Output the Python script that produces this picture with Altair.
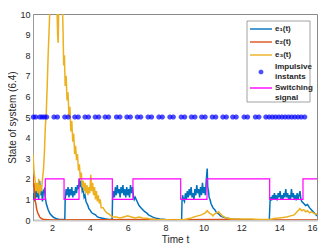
import altair as alt
import pandas as pd

# ---- data ----
e1_t = [1.00,1.05,1.10,1.15,1.20,1.25,1.30,1.35,1.40,1.45,1.50,1.55,1.60,1.65,1.70,1.80,1.90,2.00,2.10,2.20,2.30,2.40,2.50,2.60,2.68,
        2.70,2.75,2.80,2.85,2.90,2.95,3.00,3.05,3.10,3.15,3.20,3.25,3.30,3.35,3.40,3.45,3.50,3.55,3.60,3.65,3.70,3.75,3.80,3.85,3.90,3.95,4.00,4.10,4.20,4.30,4.40,4.50,4.60,4.80,5.00,5.18,
        5.20,5.25,5.30,5.35,5.40,5.45,5.50,5.55,5.60,5.65,5.70,5.75,5.80,5.85,5.90,5.95,6.00,6.05,6.10,6.15,6.20,6.25,6.30,6.35,6.40,6.50,6.60,6.70,6.80,6.90,7.00,7.10,7.20,7.30,7.50,7.70,8.00,8.50,8.85,
        8.87,8.90,8.95,9.00,9.05,9.10,9.15,9.20,9.25,9.30,9.35,9.40,9.45,9.50,9.55,9.60,9.65,9.70,9.75,9.80,9.85,9.90,9.95,10.00,10.05,10.10,10.15,10.20,10.23,10.27,10.30,10.35,10.40,10.50,10.60,10.70,10.80,10.90,11.00,11.20,11.50,12.00,13.00,13.48,
        13.52,13.55,13.60,13.65,13.70,13.75,13.80,13.85,13.90,13.95,14.00,14.05,14.10,14.15,14.20,14.25,14.30,14.35,14.40,14.45,14.50,14.55,14.60,14.65,14.70,14.75,14.80,14.85,14.90,14.95,15.00,15.05,15.10,15.15,15.20,15.30,15.40,15.50,15.60,15.70,15.80,15.90,16.00]
e1_v = [1.0,1.3,0.9,1.4,1.1,1.6,1.0,1.9,1.2,1.5,0.9,1.4,1.5,1.1,0.8,0.5,0.3,0.2,0.12,0.08,0.05,0.03,0.02,0.02,0.02,
        1.0,1.5,1.2,1.6,1.1,1.5,1.2,1.6,1.1,1.4,1.2,1.6,1.3,1.7,1.5,2.0,1.6,1.9,1.4,1.5,1.1,1.2,0.9,0.8,0.7,0.55,0.5,0.35,0.3,0.25,0.15,0.12,0.1,0.06,0.03,0.02,
        1.0,1.4,1.1,1.6,1.2,1.7,1.3,1.5,1.1,1.6,1.3,1.7,1.2,1.5,1.1,1.6,1.2,1.5,1.1,1.7,1.3,1.6,1.2,1.0,1.1,0.9,0.7,0.6,0.5,0.4,0.35,0.25,0.2,0.15,0.08,0.05,0.02,0.0,0.0,
        0.9,1.2,1.0,0.9,1.3,1.0,1.4,1.1,1.5,1.2,1.6,1.1,1.3,1.0,1.5,1.2,1.7,1.3,1.5,1.1,1.6,1.2,1.8,1.3,1.6,1.2,1.9,2.5,1.6,1.4,1.1,1.0,0.8,0.6,0.5,0.35,0.3,0.2,0.15,0.1,0.05,0.02,0.0,0.0,
        0.9,1.1,0.95,1.2,1.0,1.3,1.0,1.2,0.95,1.3,1.1,1.4,1.0,1.2,1.0,1.3,1.1,1.5,1.1,1.3,1.0,1.2,1.0,1.5,1.1,1.3,1.0,1.2,0.95,1.3,1.0,1.2,1.4,1.0,0.9,0.8,0.7,0.75,0.6,0.5,0.4,0.3,0.2]

e2_t = [1.00,1.03,1.06,1.10,1.15,1.20,1.25,1.30,1.35,1.40,1.50,1.60,2.00,7.00,7.50,8.00,11.00,11.50,12.00,16.00]
e2_v = [2.2,1.6,1.8,1.0,0.8,0.5,0.35,0.25,0.15,0.1,0.05,0.02,0.0,0.02,0.03,0.01,0.02,0.03,0.01,0.0]

e3_t = [1.00,1.05,1.10,1.15,1.20,1.25,1.30,1.35,1.40,1.45,1.50,1.55,1.60,1.65,1.70,1.75,1.80,1.85,1.90,1.95,2.00,2.05,2.10,2.15,2.20,2.25,2.30,2.33,2.36,2.40,2.45,2.50,2.55,2.58,2.62,2.66,2.70,2.75,2.80,2.85,2.90,2.95,3.00,3.05,3.10,3.15,3.20,3.25,3.30,3.35,3.40,3.45,3.50,3.55,3.60,3.65,3.70,3.75,3.80,3.85,3.90,3.95,4.00,4.05,4.10,4.15,4.20,4.25,4.30,4.35,4.40,4.45,4.50,4.55,4.60,4.70,4.80,4.90,5.00,5.10,5.20,5.40,5.60,5.80,6.00,6.20,6.40,6.60,6.80,7.00,7.20,7.50,8.00,8.50,9.00,9.30,9.50,9.70,9.90,10.00,10.10,10.20,10.30,10.40,10.50,10.60,10.70,10.80,10.90,11.00,11.20,11.50,12.00,12.50,13.00,13.50,13.80,14.00,14.20,14.40,14.60,14.80,14.90,15.00,15.10,15.20,15.30,15.40,15.50,15.60,15.70,15.80,15.90,16.00]
e3_v = [3.2,2.4,2.0,1.4,1.8,1.3,2.0,1.2,1.7,1.4,2.0,2.4,3.2,4.5,5.2,6.5,8.0,9.2,10.5,11.0,10.2,11.0,10.4,11.0,10.5,11.0,9.0,8.6,10.5,11.0,10.3,11.0,10.5,9.5,7.5,8.0,6.5,7.0,5.8,6.2,5.0,5.5,4.3,4.8,3.8,4.2,3.2,3.6,2.9,3.2,2.4,2.7,2.0,2.3,1.6,1.9,1.4,1.8,1.3,1.7,1.2,1.6,1.3,2.2,1.4,1.8,1.2,1.6,1.0,1.4,0.9,1.2,0.8,1.0,0.6,0.6,0.45,0.35,0.3,0.22,0.15,0.15,0.1,0.15,0.2,0.15,0.1,0.15,0.1,0.08,0.05,0.03,0.01,0.0,0.02,0.08,0.15,0.2,0.25,0.3,0.35,0.45,0.35,0.3,0.2,0.3,0.35,0.4,0.3,0.2,0.1,0.05,0.05,0.05,0.03,0.03,0.08,0.1,0.12,0.15,0.2,0.25,0.35,0.45,0.55,0.45,0.5,0.4,0.45,0.35,0.4,0.35,0.3,0.28]

impulse_t = [1.02,1.14,1.36,1.48,1.60,1.72,2.11,2.29,2.68,2.86,3.21,3.39,3.75,3.93,4.29,4.47,4.81,4.99,5.41,5.59,5.96,6.14,
             6.51,6.69,7.08,7.26,7.65,7.83,8.23,8.41,8.83,9.01,9.37,9.55,9.91,10.09,10.47,10.65,11.03,11.21,11.55,11.73,12.15,12.33,
             12.75,12.93,13.30,13.47,13.64,13.81,13.98,14.15,14.32,14.49,14.66,14.83,15.00,15.17,15.35]
impulse_level = 5

switch_t = [1.00,1.65,2.64,3.43,5.19,6.28,8.80,10.19,13.50,15.26,16.00]
switch_v = [1,2,1,2,1,2,1,2,1,2,2]

x_ticks = [2,4,6,8,10,12,14,16]
y_ticks = [0,1,2,3,4,5,6,7,8,9,10]

C_E1, C_E2, C_E3, C_IMP, C_SW = "#0072BD", "#D95319", "#EDB120", "#0000FF", "#FF00FF"
FONT = "Liberation Sans"

df_e1 = pd.DataFrame({"t": e1_t, "v": e1_v})
df_e2 = pd.DataFrame({"t": e2_t, "v": e2_v})
df_e3 = pd.DataFrame({"t": e3_t, "v": e3_v})
df_imp = pd.DataFrame({"t": impulse_t, "v": [impulse_level] * len(impulse_t)})
df_sw = pd.DataFrame({"t": switch_t, "v": switch_v})
dummy = pd.DataFrame({"a": [0]})

X = alt.X("t:Q", scale=alt.Scale(domain=[1, 16], nice=False, zero=False),
          axis=alt.Axis(values=x_ticks, title="Time t", format="d"))
Y = alt.Y("v:Q", scale=alt.Scale(domain=[0, 10], nice=False),
          axis=alt.Axis(values=y_ticks, title="State of system (6.4)", format="d"))

def series(df, color):
    return alt.Chart(df).mark_line(color=color, strokeWidth=1.5, clip=True).encode(x=X, y=Y)

l_e1 = series(df_e1, C_E1)
l_e2 = series(df_e2, C_E2)
l_e3 = series(df_e3, C_E3)

ASTER = "M-1,0H1M0,-1V1M-0.7,-0.7L0.7,0.7M-0.7,0.7L0.7,-0.7"
l_imp = alt.Chart(df_imp).mark_point(shape=ASTER, filled=False, color=C_IMP, size=26, strokeWidth=2.2).encode(x=X, y=Y)
l_sw = alt.Chart(df_sw).mark_line(color=C_SW, strokeWidth=1.2, interpolate="step-after", clip=True).encode(x=X, y=Y)

# ---- hand-drawn legend box (pixel positions relative to the plot area) ----
lx0, lx1 = 214, 277
box = alt.Chart(dummy).mark_rect(fill="white", stroke="#8a8a8a", strokeWidth=0.8).encode(
    x=alt.value(lx0), x2=alt.value(lx1), y=alt.value(7), y2=alt.value(88))

def leg_line(color, y):
    return alt.Chart(dummy).mark_rule(color=color, strokeWidth=1.4).encode(
        x=alt.value(217), x2=alt.value(239), y=alt.value(y))

def leg_text(text, y):
    return alt.Chart(dummy).mark_text(text=text, align="left", baseline="middle", font=FONT,
                                      fontSize=8, fontWeight="bold", color="#262626", lineBreak="\n",
                                      lineHeight=10).encode(x=alt.value(242), y=alt.value(y))

leg = [box,
       leg_line(C_E1, 15), leg_text("e\u2081(t)", 15),
       leg_line(C_E2, 28), leg_text("e\u2082(t)", 28),
       leg_line(C_E3, 41), leg_text("e\u2083(t)", 41),
       alt.Chart(dummy).mark_point(shape=ASTER, filled=False, color=C_IMP, size=22, strokeWidth=2).encode(
           x=alt.value(228), y=alt.value(58)),
       leg_text("Impulsive\ninstants", 53),
       leg_line(C_SW, 74), leg_text("Switching\nsignal", 74)]

chart = alt.layer(l_e1, l_e2, l_e3, l_imp, l_sw, *leg).properties(
    width=284, height=206, autosize="none",
    padding={"left": 25, "top": 6, "right": 6, "bottom": 24},
).configure_view(stroke="#8a8a8a", strokeWidth=1).configure_axis(
    labelFont=FONT, labelFontSize=9, labelColor="#262626", labelPadding=3,
    titleFont=FONT, titleFontSize=10, titleFontWeight="normal", titleColor="#262626",
    grid=False, ticks=False, domainColor="#9a9a9a", domainWidth=1,
).configure_axisX(domainColor="#c8c8c8", domainWidth=2, titlePadding=2).configure_axisY(titlePadding=2)

chart.save("out.html", embed_options={"renderer": "svg", "actions": False})
